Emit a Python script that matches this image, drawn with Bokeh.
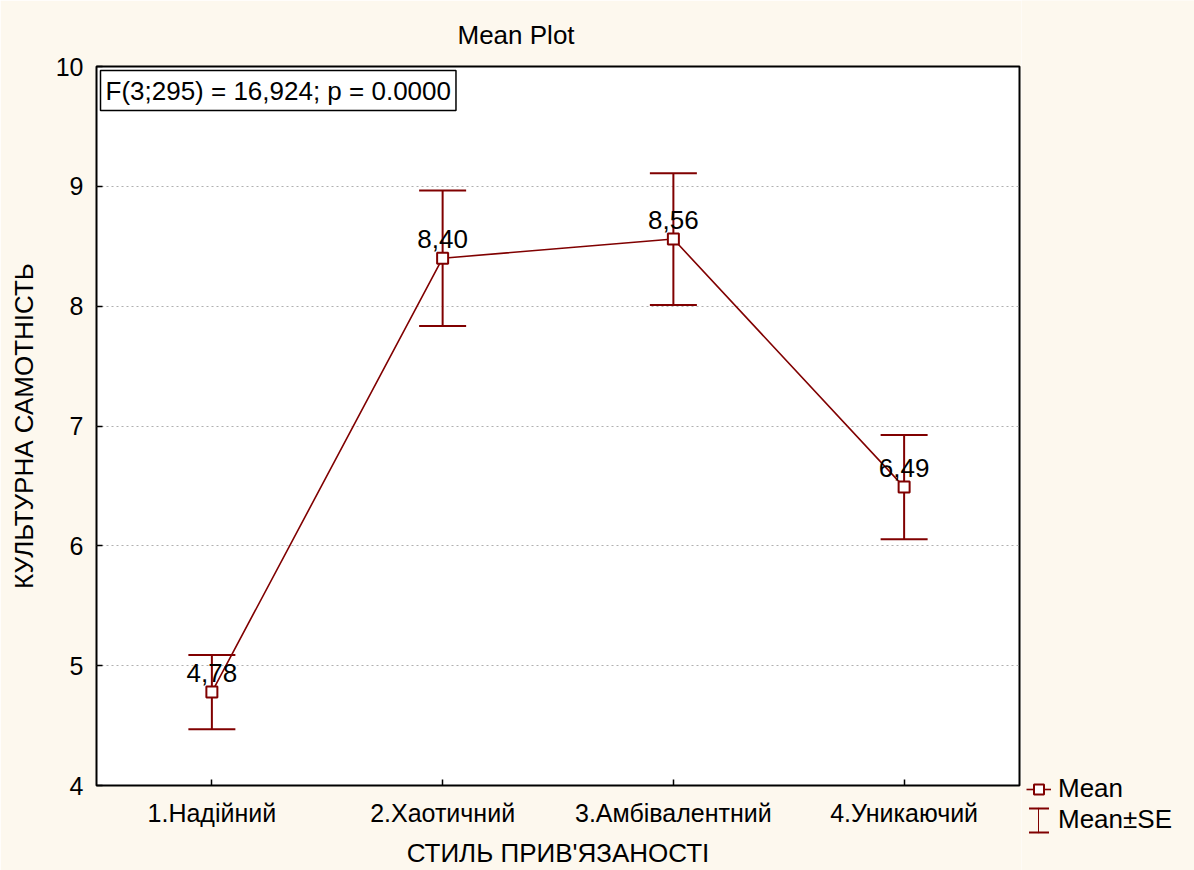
from bokeh.plotting import figure
from bokeh.layouts import row
from bokeh.models import Label, Legend, LegendItem, FixedTicker, Range1d
from bokeh.core.properties import value
from bokeh.embed import file_html
from bokeh.resources import INLINE

# ---- data ----
categories = ["1.Надійний", "2.Хаотичний", "3.Амбівалентний", "4.Уникаючий"]
means = [4.78, 8.40, 8.56, 6.49]
se = [0.31, 0.565, 0.55, 0.435]
mean_labels = ["4,78", "8,40", "8,56", "6,49"]
y_ticks = [4, 5, 6, 7, 8, 9, 10]
stat_text = "F(3;295) = 16,924; p = 0.0000"
title_text = "Mean Plot"
x_title = "СТИЛЬ ПРИВ'ЯЗАНОСТІ"
y_title = "КУЛЬТУРНА САМОТНІСТЬ"
legend_labels = ["Mean", "Mean±SE"]

xs = list(range(1, len(categories) + 1))
lower = [m - s for m, s in zip(means, se)]
upper = [m + s for m, s in zip(means, se)]

RED = "#800000"
BG = "#fdf8ee"
FONT = "Liberation Sans"
FS = "26px"
FS_TICK = "25px"

p = figure(width=1021, height=870, output_backend="svg", toolbar_location=None,
           x_range=Range1d(0.5, 4.5), y_range=Range1d(4, 10),
           min_border_left=96, min_border_right=2, min_border_top=66, min_border_bottom=85,
           background_fill_color="white", border_fill_color=BG,
           title=title_text)

p.title.text_font = FONT
p.title.text_font_size = FS
p.title.text_font_style = "normal"
p.title.text_color = "black"
p.title.align = "left"
p.title.offset = 361
p.title.standoff = 33

p.outline_line_color = "black"
p.outline_line_width = 2

for ax in (p.xaxis[0], p.yaxis[0]):
    ax.axis_line_color = None
    ax.major_tick_in = 6
    ax.major_tick_out = 0
    ax.major_tick_line_color = "black"
    ax.major_tick_line_width = 1.5
    ax.minor_tick_line_color = None
    ax.major_label_text_font = FONT
    ax.major_label_text_font_size = FS_TICK
    ax.major_label_text_color = "black"
    ax.axis_label_text_font = FONT
    ax.axis_label_text_font_size = FS
    ax.axis_label_text_font_style = "normal"
    ax.axis_label_text_color = "black"

p.xaxis.ticker = FixedTicker(ticks=xs)
p.xaxis.major_label_overrides = {x: c for x, c in zip(xs, categories)}
p.xaxis.major_label_standoff = 13
p.xaxis.axis_label = x_title
p.xaxis.axis_label_standoff = 8

p.yaxis.ticker = FixedTicker(ticks=y_ticks)
p.yaxis.major_label_standoff = 13
p.yaxis.axis_label = y_title
p.yaxis.axis_label_standoff = 14

p.xgrid.grid_line_color = None
p.ygrid.ticker = FixedTicker(ticks=y_ticks)
p.ygrid.grid_line_color = "#b0b0b0"
p.ygrid.grid_line_dash = "2 3"
p.ygrid.grid_line_width = 1

# error bars
p.segment(x0=xs, y0=lower, x1=xs, y1=upper, line_color=RED, line_width=2)
p.scatter(x=xs + xs, y=upper + lower, marker="dash", size=47, line_color=RED, line_width=2)

# mean line + markers
p.line(xs, means, line_color=RED, line_width=1.6)
p.text(x=xs, y=means, text=mean_labels, text_align="center", text_baseline="bottom",
       y_offset=-10, text_font=value(FONT), text_font_size=FS, text_color="black")
p.scatter(xs, means, marker="square", size=11, fill_color="white",
          line_color=RED, line_width=2)

# statistics box
p.add_layout(Label(x=0.5, y=10, x_offset=4, y_offset=-4, text=stat_text,
                   text_baseline="top", text_align="left",
                   text_font=FONT, text_font_size=FS, text_color="black",
                   border_line_color="black", border_line_width=1.5,
                   background_fill_color="white", padding=5))

# ---- legend panel to the right of the plot frame ----
side = figure(width=173, height=870, output_backend="svg", toolbar_location=None,
              x_range=Range1d(0, 1), y_range=Range1d(0, 1),
              x_axis_location=None, y_axis_location=None,
              min_border=0, background_fill_color=BG, border_fill_color=BG)
side.frame_align = False
side.grid.grid_line_color = None
side.outline_line_color = None

# legend-key renderers (a single off-range point each, only used for legend keys)
key_x = [-10]
key_y = [-10]
l_line = side.line(x=key_x, y=key_y, line_color=RED, line_width=1.6)
l_sq = side.scatter(x=key_x, y=key_y, marker="square", size=11, fill_color="white",
                    line_color=RED, line_width=2)
# whisker caps: box outline dashed so only top and bottom edges show
l_caps = side.quad(left=key_x, right=key_x, top=key_y, bottom=key_y,
                   fill_color=None, line_color=RED, line_width=2, line_dash="20 24")
# whisker stem: a very narrow box key
l_stem = side.quad(left=key_x, right=key_x, top=key_y, bottom=key_y,
                   fill_color=None, line_color=RED, line_width=1.5)

legend = Legend(items=[LegendItem(label=legend_labels[0], renderers=[l_line, l_sq]),
                       LegendItem(label=legend_labels[1], renderers=[l_caps])],
                location=(5, 35), orientation="vertical",
                background_fill_alpha=0, border_line_color=None,
                padding=0, margin=0, spacing=0,
                glyph_width=25, glyph_height=30, label_height=30, label_standoff=7,
                label_text_font=FONT, label_text_font_size=FS, label_text_color="black")
side.add_layout(legend, "center")

legend_stem = Legend(items=[LegendItem(label=" ", renderers=[l_stem])],
                     location=(17, 35), orientation="vertical",
                     background_fill_alpha=0, border_line_color=None,
                     padding=0, margin=0, spacing=0,
                     glyph_width=1, glyph_height=30, label_height=30, label_standoff=0,
                     label_text_font=FONT, label_text_font_size="1px")
side.add_layout(legend_stem, "center")

layout = row(p, side, spacing=0)

html = file_html(layout, INLINE)
html = html.replace("<body>", '<body style="background-color:%s;">' % BG, 1)
open("out.html", "w").write(html)
